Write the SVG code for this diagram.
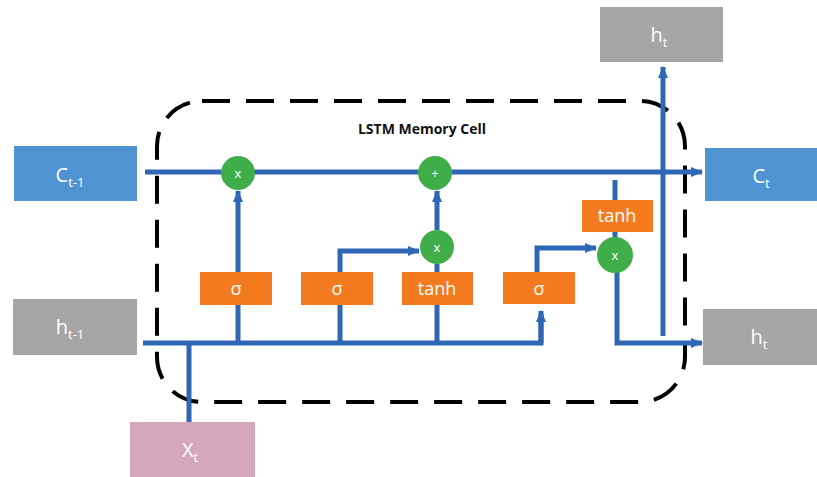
<svg xmlns="http://www.w3.org/2000/svg" width="817" height="477" viewBox="0 0 817 477">
<style>
.lbl{font-family:"Open Sans","Liberation Sans",sans-serif;fill:#fff;text-anchor:middle}
.box{font-size:20px}
.sub{font-size:13px}
.gate{font-size:18px}
.op{font-size:13px}
.w{stroke:#2f67b5;stroke-width:5;fill:none}
.a{marker-end:url(#ah)}
.orange{fill:#f47a20}
.green{fill:#3fae49}
</style>
<defs>
<marker id="ah" viewBox="0 0 12 10" refX="11" refY="5" markerWidth="12" markerHeight="10" markerUnits="userSpaceOnUse" orient="auto">
<path d="M0,0 L12,5 L0,10 z" fill="#2f67b5"/>
</marker>
</defs>
<rect width="817" height="477" fill="#fff"/>
<g id="cell-border">
<rect x="157" y="101" width="528" height="301" rx="45" fill="none" stroke="#000" stroke-width="4" stroke-dasharray="28 16"/>
<text x="422" y="134" text-anchor="middle" font-family="Open Sans, Liberation Sans, sans-serif" font-weight="bold" font-size="14" fill="#111">LSTM Memory Cell</text>
</g>
<g id="connectors">
<path class="w a" d="M145,172 H702"/>
<path class="w" d="M143,343 H541 V314"/>
<path class="w a" d="M541,343 V311"/>
<path class="w" d="M189,343 V423"/>
<path class="w" d="M238,343 V304"/>
<path class="w a" d="M238,272 V191"/>
<path class="w" d="M340,343 V304"/>
<path class="w a" d="M340,272 V251 H419"/>
<path class="w" d="M437,343 V304"/>
<path class="w" d="M437,272 V264"/>
<path class="w a" d="M437,230 V191"/>
<path class="w a" d="M537,273 V248 H596"/>
<path class="w" d="M615,180 V201"/>
<path class="w" d="M615,231 V238"/>
<path class="w a" d="M617,272 V343 H702"/>
<path class="w a" d="M663,336 V67"/>
</g>
<g id="c_prev"><rect x="14" y="146" width="123" height="55" fill="#4f93d3"/><text class="lbl box" x="70" y="182">C<tspan class="sub" dy="5">t-1</tspan></text></g>
<g id="h_prev"><rect x="13" y="299" width="124" height="56" fill="#a6a6a6"/><text class="lbl box" x="70" y="334">h<tspan class="sub" dy="5">t-1</tspan></text></g>
<g id="x_t"><rect x="130" y="422" width="125" height="55" fill="#d5a7bd"/><text class="lbl box" x="190" y="457">X<tspan class="sub" dy="5">t</tspan></text></g>
<g id="h_t_top"><rect x="600" y="7" width="123" height="55" fill="#a6a6a6"/><text class="lbl box" x="659" y="42">h<tspan class="sub" dy="5">t</tspan></text></g>
<g id="c_t"><rect x="705" y="148" width="112" height="53" fill="#4f93d3"/><text class="lbl box" x="761" y="183">C<tspan class="sub" dy="5">t</tspan></text></g>
<g id="h_t_right"><rect x="703" y="309" width="114" height="56" fill="#a6a6a6"/><text class="lbl box" x="759" y="344">h<tspan class="sub" dy="5">t</tspan></text></g>
<g id="forget_gate"><rect class="orange" x="200" y="272" width="72" height="33"/><text class="lbl gate" x="236" y="295">σ</text></g>
<g id="input_gate"><rect class="orange" x="301" y="272" width="72" height="33"/><text class="lbl gate" x="337" y="295">σ</text></g>
<g id="candidate"><rect class="orange" x="402" y="272" width="71" height="33"/><text class="lbl gate" x="437" y="295">tanh</text></g>
<g id="output_gate"><rect class="orange" x="503" y="272" width="72" height="32"/><text class="lbl gate" x="539" y="295">σ</text></g>
<g id="tanh_out"><rect class="orange" x="582" y="200" width="71" height="32"/><text class="lbl gate" x="617" y="222">tanh</text></g>
<g id="mul_forget"><circle class="green" cx="238" cy="173" r="17"/><text class="lbl op" x="238" y="178">x</text></g>
<g id="add"><circle class="green" cx="435" cy="173" r="17"/><text class="lbl op" x="435" y="178">+</text></g>
<g id="mul_input"><circle class="green" cx="437" cy="247" r="17"/><text class="lbl op" x="437" y="252">x</text></g>
<g id="mul_output"><circle class="green" cx="615" cy="255" r="18"/><text class="lbl op" x="615" y="260">x</text></g>
</svg>
